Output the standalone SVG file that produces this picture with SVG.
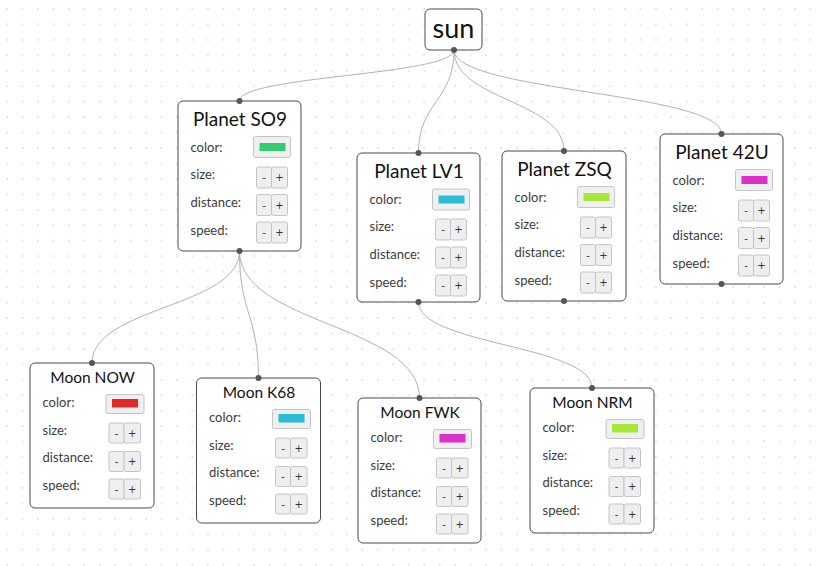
<svg xmlns="http://www.w3.org/2000/svg" width="820" height="566" viewBox="0 0 820 566">
<style>
.box{fill:#fff;stroke:#4a4a4a;stroke-width:1}
.title{font-family:Lato,"Noto Sans",sans-serif;font-size:19px;font-weight:400;fill:#111;text-anchor:middle}
.mtitle{font-family:Lato,"Noto Sans",sans-serif;font-size:15.5px;font-weight:400;fill:#111;text-anchor:middle}
.lbl{font-family:Lato,"Noto Sans",sans-serif;font-size:13px;fill:#3c3c3c}
.sw{fill:#efefef;stroke:#c4c4c4;stroke-width:1}
.btn{fill:#efefef;stroke:#c4c4c4;stroke-width:1}
.bt{font-family:"DejaVu Sans",sans-serif;font-size:10px;fill:#333;text-anchor:middle}
.edge{fill:none;stroke:#b1b1b7;stroke-width:1}
.h{fill:#555}
</style>
<defs>
<pattern id="grid" patternUnits="userSpaceOnUse" x="6" y="8" width="15.45" height="15.45">
<circle cx="1" cy="1" r="0.8" fill="#c2c2c2"/>
</pattern>
</defs>
<rect width="820" height="566" fill="#fff"/>
<rect width="820" height="566" fill="url(#grid)"/>

<g id="connectors">
<path class="edge" d="M454,50 C454,75.5 239.5,75.5 239.5,101"/>
<path class="edge" d="M454,50 C454,101.5 418.5,101.5 418.5,153"/>
<path class="edge" d="M454,50 C454,100.5 564,100.5 564,151"/>
<path class="edge" d="M454,50 C454,92 721.5,92 721.5,134"/>
<path class="edge" d="M239.5,251 C239.5,307 92,307 92,363"/>
<path class="edge" d="M239.5,251 C239.5,314.5 258.5,314.5 258.5,378"/>
<path class="edge" d="M239.5,251 C239.5,324.5 419.5,324.5 419.5,398"/>
<path class="edge" d="M418.5,302 C418.5,345 592,345 592,388"/>
</g>

<g id="sun">
<rect class="box" x="425" y="9" width="57" height="41" rx="5"/>
<text x="453.5" y="38" font-family="Lato,'Noto Sans',sans-serif" font-size="27" font-weight="400" fill="#111" text-anchor="middle">sun</text>
<circle class="h" cx="454" cy="50" r="3"/>
</g>

<g id="planet-so9" transform="translate(178,101)">
<rect class="box" x="0" y="0" width="123" height="150" rx="5"/>
<circle class="h" cx="61.5" cy="0" r="3"/>
<circle class="h" cx="61.5" cy="150" r="3"/>
<text class="title" x="62" y="24.5">Planet SO9</text>
<text class="lbl" x="12.5" y="51">color:</text>
<rect class="sw" x="75.5" y="35.5" width="37" height="21" rx="2"/>
<rect x="81.5" y="42" width="26" height="8" fill="#33cc70"/>
<text class="lbl" x="12.5" y="77.5">size:</text>
<text class="lbl" x="12.5" y="106">distance:</text>
<text class="lbl" x="12.5" y="134">speed:</text>
<rect class="btn" x="78.5" y="66" width="15" height="21" rx="2"/><text class="bt" x="86" y="80">-</text>
<rect class="btn" x="93.5" y="66" width="16" height="21" rx="2"/><text class="bt" x="101.5" y="80">+</text>
<rect class="btn" x="78.5" y="93.5" width="15" height="21" rx="2"/><text class="bt" x="86" y="107.5">-</text>
<rect class="btn" x="93.5" y="93.5" width="16" height="21" rx="2"/><text class="bt" x="101.5" y="107.5">+</text>
<rect class="btn" x="78.5" y="121" width="15" height="21" rx="2"/><text class="bt" x="86" y="135">-</text>
<rect class="btn" x="93.5" y="121" width="16" height="21" rx="2"/><text class="bt" x="101.5" y="135">+</text>
</g>

<g id="planet-lv1" transform="translate(357,153)">
<rect class="box" x="0" y="0" width="123" height="149" rx="5"/>
<circle class="h" cx="61.5" cy="0" r="3"/>
<circle class="h" cx="61.5" cy="149" r="3"/>
<text class="title" x="62" y="25">Planet LV1</text>
<text class="lbl" x="12.5" y="51">color:</text>
<rect class="sw" x="75.5" y="36" width="37" height="21" rx="2"/>
<rect x="81.5" y="42.5" width="26" height="8" fill="#2bbcd6"/>
<text class="lbl" x="12.5" y="78">size:</text>
<text class="lbl" x="12.5" y="106">distance:</text>
<text class="lbl" x="12.5" y="134">speed:</text>
<rect class="btn" x="78.5" y="66" width="15" height="21" rx="2"/><text class="bt" x="86" y="80">-</text>
<rect class="btn" x="93.5" y="66" width="16" height="21" rx="2"/><text class="bt" x="101.5" y="80">+</text>
<rect class="btn" x="78.5" y="94" width="15" height="21" rx="2"/><text class="bt" x="86" y="108">-</text>
<rect class="btn" x="93.5" y="94" width="16" height="21" rx="2"/><text class="bt" x="101.5" y="108">+</text>
<rect class="btn" x="78.5" y="122" width="15" height="21" rx="2"/><text class="bt" x="86" y="136">-</text>
<rect class="btn" x="93.5" y="122" width="16" height="21" rx="2"/><text class="bt" x="101.5" y="136">+</text>
</g>

<g id="planet-zsq" transform="translate(502,151)">
<rect class="box" x="0" y="0" width="124" height="150" rx="5"/>
<circle class="h" cx="62" cy="0" r="3"/>
<circle class="h" cx="62" cy="150" r="3"/>
<text class="title" x="62.5" y="24.5">Planet ZSQ</text>
<text class="lbl" x="12.5" y="51">color:</text>
<rect class="sw" x="75.5" y="35.5" width="37" height="21" rx="2"/>
<rect x="81.5" y="42" width="26" height="8" fill="#a6e83a"/>
<text class="lbl" x="12.5" y="77.5">size:</text>
<text class="lbl" x="12.5" y="106">distance:</text>
<text class="lbl" x="12.5" y="134">speed:</text>
<rect class="btn" x="78.5" y="66" width="15" height="21" rx="2"/><text class="bt" x="86" y="80">-</text>
<rect class="btn" x="93.5" y="66" width="16" height="21" rx="2"/><text class="bt" x="101.5" y="80">+</text>
<rect class="btn" x="78.5" y="93.5" width="15" height="21" rx="2"/><text class="bt" x="86" y="107.5">-</text>
<rect class="btn" x="93.5" y="93.5" width="16" height="21" rx="2"/><text class="bt" x="101.5" y="107.5">+</text>
<rect class="btn" x="78.5" y="121" width="15" height="21" rx="2"/><text class="bt" x="86" y="135">-</text>
<rect class="btn" x="93.5" y="121" width="16" height="21" rx="2"/><text class="bt" x="101.5" y="135">+</text>
</g>

<g id="planet-42u" transform="translate(660,134)">
<rect class="box" x="0" y="0" width="123" height="150" rx="5"/>
<circle class="h" cx="61.5" cy="0" r="3"/>
<circle class="h" cx="61.5" cy="150" r="3"/>
<text class="title" x="62" y="24.5">Planet 42U</text>
<text class="lbl" x="12.5" y="51">color:</text>
<rect class="sw" x="75.5" y="35.5" width="37" height="21" rx="2"/>
<rect x="81.5" y="42" width="26" height="8" fill="#dd2fc9"/>
<text class="lbl" x="12.5" y="77.5">size:</text>
<text class="lbl" x="12.5" y="106">distance:</text>
<text class="lbl" x="12.5" y="134">speed:</text>
<rect class="btn" x="78.5" y="66" width="15" height="21" rx="2"/><text class="bt" x="86" y="80">-</text>
<rect class="btn" x="93.5" y="66" width="16" height="21" rx="2"/><text class="bt" x="101.5" y="80">+</text>
<rect class="btn" x="78.5" y="93.5" width="15" height="21" rx="2"/><text class="bt" x="86" y="107.5">-</text>
<rect class="btn" x="93.5" y="93.5" width="16" height="21" rx="2"/><text class="bt" x="101.5" y="107.5">+</text>
<rect class="btn" x="78.5" y="121" width="15" height="21" rx="2"/><text class="bt" x="86" y="135">-</text>
<rect class="btn" x="93.5" y="121" width="16" height="21" rx="2"/><text class="bt" x="101.5" y="135">+</text>
</g>

<g id="moon-now" transform="translate(30,363)">
<rect class="box" x="0" y="0" width="124" height="145" rx="5"/>
<circle class="h" cx="62" cy="0" r="3"/>
<text class="mtitle" x="62.5" y="20">Moon NOW</text>
<text class="lbl" x="12.5" y="43.5">color:</text>
<rect class="sw" x="76" y="31.5" width="38" height="19" rx="2"/>
<rect x="82" y="36" width="26" height="8.5" fill="#e02a2a"/>
<text class="lbl" x="12.5" y="71.5">size:</text>
<text class="lbl" x="12.5" y="98.5">distance:</text>
<text class="lbl" x="12.5" y="127">speed:</text>
<rect class="btn" x="79" y="60" width="15" height="20" rx="2"/><text class="bt" x="86.5" y="73.5">-</text>
<rect class="btn" x="94" y="60" width="16.5" height="20" rx="2"/><text class="bt" x="102.3" y="73.5">+</text>
<rect class="btn" x="79" y="88.5" width="15" height="20" rx="2"/><text class="bt" x="86.5" y="102">-</text>
<rect class="btn" x="94" y="88.5" width="16.5" height="20" rx="2"/><text class="bt" x="102.3" y="102">+</text>
<rect class="btn" x="79" y="116" width="15" height="20" rx="2"/><text class="bt" x="86.5" y="129.5">-</text>
<rect class="btn" x="94" y="116" width="16.5" height="20" rx="2"/><text class="bt" x="102.3" y="129.5">+</text>
</g>

<g id="moon-k68" transform="translate(196.5,378)">
<rect class="box" x="0" y="0" width="124" height="145" rx="5"/>
<circle class="h" cx="62" cy="0" r="3"/>
<text class="mtitle" x="62.5" y="20">Moon K68</text>
<text class="lbl" x="12.5" y="43.5">color:</text>
<rect class="sw" x="76" y="31.5" width="38" height="19" rx="2"/>
<rect x="82" y="36" width="26" height="8.5" fill="#2bbcd6"/>
<text class="lbl" x="12.5" y="71.5">size:</text>
<text class="lbl" x="12.5" y="98.5">distance:</text>
<text class="lbl" x="12.5" y="127">speed:</text>
<rect class="btn" x="79" y="60" width="15" height="20" rx="2"/><text class="bt" x="86.5" y="73.5">-</text>
<rect class="btn" x="94" y="60" width="16.5" height="20" rx="2"/><text class="bt" x="102.3" y="73.5">+</text>
<rect class="btn" x="79" y="88.5" width="15" height="20" rx="2"/><text class="bt" x="86.5" y="102">-</text>
<rect class="btn" x="94" y="88.5" width="16.5" height="20" rx="2"/><text class="bt" x="102.3" y="102">+</text>
<rect class="btn" x="79" y="116" width="15" height="20" rx="2"/><text class="bt" x="86.5" y="129.5">-</text>
<rect class="btn" x="94" y="116" width="16.5" height="20" rx="2"/><text class="bt" x="102.3" y="129.5">+</text>
</g>

<g id="moon-fwk" transform="translate(358,398)">
<rect class="box" x="0" y="0" width="123" height="145" rx="5"/>
<circle class="h" cx="61.5" cy="0" r="3"/>
<text class="mtitle" x="62" y="20">Moon FWK</text>
<text class="lbl" x="12.5" y="43.5">color:</text>
<rect class="sw" x="75.5" y="31.5" width="38" height="19" rx="2"/>
<rect x="81.5" y="36" width="26" height="8.5" fill="#dd2fc9"/>
<text class="lbl" x="12.5" y="71.5">size:</text>
<text class="lbl" x="12.5" y="98.5">distance:</text>
<text class="lbl" x="12.5" y="127">speed:</text>
<rect class="btn" x="78.5" y="60" width="15" height="20" rx="2"/><text class="bt" x="86" y="73.5">-</text>
<rect class="btn" x="93.5" y="60" width="16.5" height="20" rx="2"/><text class="bt" x="101.8" y="73.5">+</text>
<rect class="btn" x="78.5" y="88.5" width="15" height="20" rx="2"/><text class="bt" x="86" y="102">-</text>
<rect class="btn" x="93.5" y="88.5" width="16.5" height="20" rx="2"/><text class="bt" x="101.8" y="102">+</text>
<rect class="btn" x="78.5" y="116" width="15" height="20" rx="2"/><text class="bt" x="86" y="129.5">-</text>
<rect class="btn" x="93.5" y="116" width="16.5" height="20" rx="2"/><text class="bt" x="101.8" y="129.5">+</text>
</g>

<g id="moon-nrm" transform="translate(530,388)">
<rect class="box" x="0" y="0" width="124" height="145" rx="5"/>
<circle class="h" cx="62" cy="0" r="3"/>
<text class="mtitle" x="62.5" y="20">Moon NRM</text>
<text class="lbl" x="12.5" y="43.5">color:</text>
<rect class="sw" x="76" y="31.5" width="38" height="19" rx="2"/>
<rect x="82" y="36" width="26" height="8.5" fill="#a6e83a"/>
<text class="lbl" x="12.5" y="71.5">size:</text>
<text class="lbl" x="12.5" y="98.5">distance:</text>
<text class="lbl" x="12.5" y="127">speed:</text>
<rect class="btn" x="79" y="60" width="15" height="20" rx="2"/><text class="bt" x="86.5" y="73.5">-</text>
<rect class="btn" x="94" y="60" width="16.5" height="20" rx="2"/><text class="bt" x="102.3" y="73.5">+</text>
<rect class="btn" x="79" y="88.5" width="15" height="20" rx="2"/><text class="bt" x="86.5" y="102">-</text>
<rect class="btn" x="94" y="88.5" width="16.5" height="20" rx="2"/><text class="bt" x="102.3" y="102">+</text>
<rect class="btn" x="79" y="116" width="15" height="20" rx="2"/><text class="bt" x="86.5" y="129.5">-</text>
<rect class="btn" x="94" y="116" width="16.5" height="20" rx="2"/><text class="bt" x="102.3" y="129.5">+</text>
</g>
</svg>
